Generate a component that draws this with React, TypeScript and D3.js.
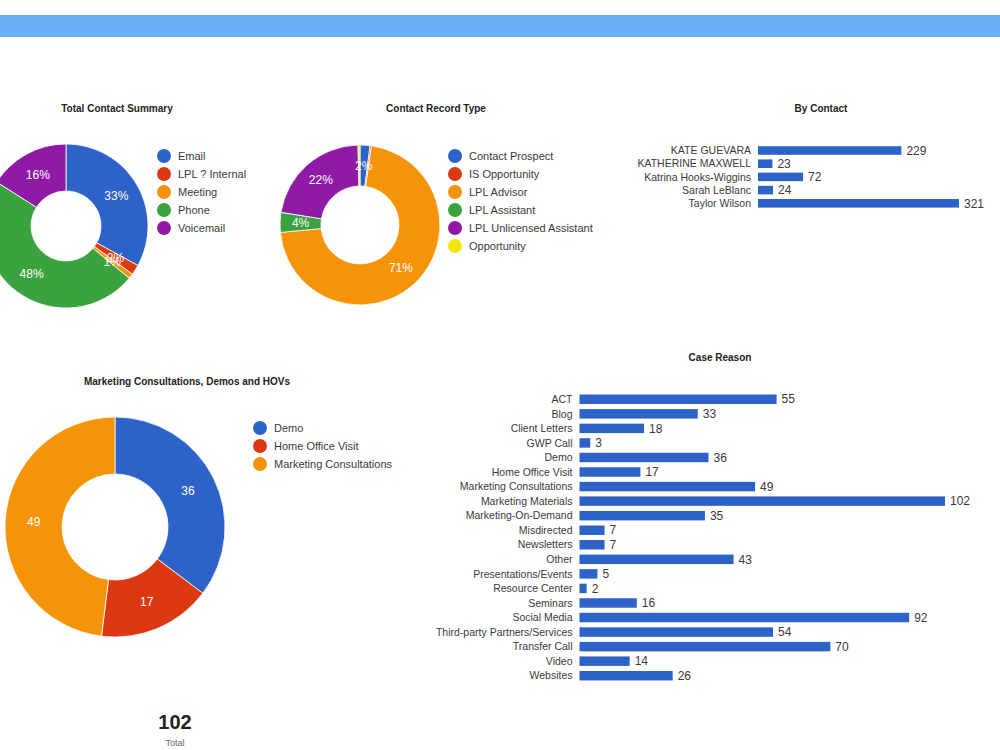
import * as d3 from 'd3'

// --- data ---
const summaryLabels = ['Email', 'LPL ? Internal', 'Meeting', 'Phone', 'Voicemail']
const summaryValues = [33, 2, 1, 48, 16]

const recordLabels = ['Contact Prospect', 'IS Opportunity', 'LPL Advisor', 'LPL Assistant', 'LPL Unlicensed Assistant', 'Opportunity']
const recordValues = [2, 0.3, 71, 4, 22, 0.4]

const contactNames = ['KATE GUEVARA', 'KATHERINE MAXWELL', 'Katrina Hooks-Wiggins', 'Sarah LeBlanc', 'Taylor Wilson']
const contactValues = [229, 23, 72, 24, 321]

const mktLabels = ['Demo', 'Home Office Visit', 'Marketing Consultations']
const mktValues = [36, 17, 49]

const caseReasons = [
  'ACT', 'Blog', 'Client Letters', 'GWP Call', 'Demo', 'Home Office Visit',
  'Marketing Consultations', 'Marketing Materials', 'Marketing-On-Demand', 'Misdirected',
  'Newsletters', 'Other', 'Presentations/Events', 'Resource Center', 'Seminars',
  'Social Media', 'Third-party Partners/Services', 'Transfer Call', 'Video', 'Websites',
]
const caseValues = [55, 33, 18, 3, 36, 17, 49, 102, 35, 7, 7, 43, 5, 2, 16, 92, 54, 70, 14, 26]

const totalValue = 102

const palette = ['#2d62c8', '#dc3912', '#f59409', '#3aa23e', '#8e1aa6', '#f5e60a']
const FONT = '"Liberation Sans", Arial, sans-serif'
const TEXT = '#3a3a3a'

interface DonutProps {
  labels: string[]
  values: number[]
  cx: number
  cy: number
  outer: number
  inner: number
  legendX: number
  legendY: number
  mode: 'percent' | 'value'
}

function Donut({ labels, values, cx, cy, outer, inner, legendX, legendY, mode }: DonutProps) {
  const total = d3.sum(values)
  const pie = d3.pie<number>().sort(null).value(d => d)
  const arcs = pie(values)
  const arc = d3.arc<d3.PieArcDatum<number>>().innerRadius(inner).outerRadius(outer)
  const labelArc = d3.arc<d3.PieArcDatum<number>>().innerRadius((inner + outer) / 2).outerRadius((inner + outer) / 2)

  return (
    <g>
      <g transform={`translate(${cx},${cy})`}>
        {arcs.map((a, i) => (
          <path key={i} d={arc(a) || ''} fill={palette[i]} stroke="#fff" strokeWidth={0.8} />
        ))}
        {arcs.map((a, i) => {
          const share = a.data / total
          if (share < 0.009) return null
          const [x, y] = labelArc.centroid(a)
          const txt = mode === 'percent' ? `${Math.round(share * 100)}%` : `${a.data}`
          return (
            <text key={'l' + i} x={x} y={y} dy="0.35em" textAnchor="middle" fill="#fff"
              fontSize={12} fontFamily={FONT}>{txt}</text>
          )
        })}
      </g>
      {labels.map((l, i) => (
        <g key={'g' + i} transform={`translate(${legendX},${legendY + i * 18})`}>
          <circle r={7} fill={palette[i]} />
          <text x={14} dy="0.35em" fontSize={11} fill={TEXT} fontFamily={FONT}>{l}</text>
        </g>
      ))}
    </g>
  )
}

interface BarsProps {
  names: string[]
  values: number[]
  x0: number
  x1: number
  y0: number
  y1: number
}

function Bars({ names, values, x0, x1, y0, y1 }: BarsProps) {
  const x = d3.scaleLinear().domain([0, d3.max(values) as number]).range([x0, x1])
  const y = d3.scaleBand<string>().domain(names).range([y0, y1]).paddingInner(0.35).paddingOuter(0.175)
  return (
    <g>
      {names.map((n, i) => {
        const yy = y(n) as number
        const mid = yy + y.bandwidth() / 2
        return (
          <g key={n}>
            <text x={x0 - 7} y={mid} dy="0.35em" textAnchor="end" fontSize={10.5} fill={TEXT} fontFamily={FONT}>{n}</text>
            <rect x={x0} y={yy} width={x(values[i]) - x0} height={y.bandwidth()} fill={palette[0]} />
            <text x={x(values[i]) + 5} y={mid} dy="0.35em" fontSize={12} fill={TEXT} fontFamily={FONT}>{values[i]}</text>
          </g>
        )
      })}
    </g>
  )
}

const Title = ({ x, y, children }: { x: number; y: number; children: string }) => (
  <text x={x} y={y} dy="0.35em" textAnchor="middle" fontSize={10} fontWeight="bold" fill="#222" fontFamily={FONT}>{children}</text>
)

export default function App() {
  return (
    <svg width={1000} height={750} style={{ position: 'absolute', left: 0, top: 0, background: '#fff' }}>
      <rect x={0} y={15} width={1000} height={22} fill="#6aaef5" />

      <Title x={117} y={108}>Total Contact Summary</Title>
      <Donut labels={summaryLabels} values={summaryValues} cx={66} cy={226} outer={82} inner={35}
        legendX={164} legendY={156} mode="percent" />

      <Title x={436} y={108}>Contact Record Type</Title>
      <Donut labels={recordLabels} values={recordValues} cx={360} cy={225} outer={80} inner={39}
        legendX={455} legendY={156} mode="percent" />

      <Title x={821} y={108}>By Contact</Title>
      <Bars names={contactNames} values={contactValues} x0={758} x1={959} y0={143.9} y1={209.9} />

      <Title x={187} y={381}>Marketing Consultations, Demos and HOVs</Title>
      <Donut labels={mktLabels} values={mktValues} cx={115} cy={527} outer={110} inner={53}
        legendX={260} legendY={428} mode="value" />

      <Title x={720} y={357}>Case Reason</Title>
      <Bars names={caseReasons} values={caseValues} x0={579.5} x1={945} y0={392} y1={683} />

      <text x={175} y={722} dy="0.35em" textAnchor="middle" fontSize={20} fontWeight="bold" fill="#222" fontFamily={FONT}>{totalValue}</text>
      <text x={175} y={743} dy="0.35em" textAnchor="middle" fontSize={9} fill="#666" fontFamily={FONT}>Total</text>
    </svg>
  )
}
